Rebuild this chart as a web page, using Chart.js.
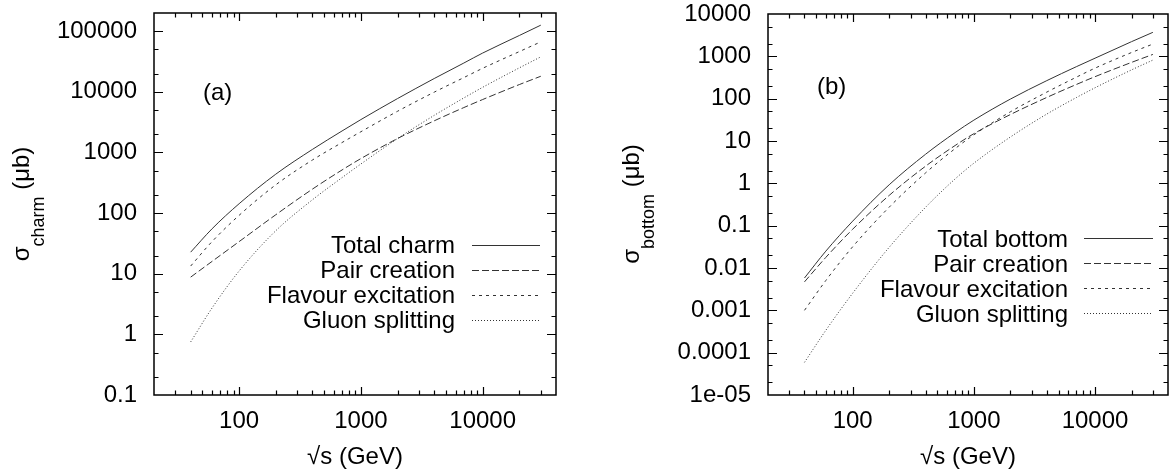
<!DOCTYPE html>
<html><head><meta charset="utf-8">
<script src="https://cdn.jsdelivr.net/npm/chart.js@4.4.1/dist/chart.umd.min.js"></script>
<style>
html,body{margin:0;padding:0;background:#fff;overflow:hidden}
#wrap{position:relative;width:1169px;height:470px;background:#fff}
#c1{position:absolute;left:0;top:0}
#c2{position:absolute;left:584px;top:0}
</style></head><body>
<div id="wrap">
<canvas id="c1" width="584" height="470"></canvas>
<canvas id="c2" width="585" height="470"></canvas>
</div>
<script>
// ---- data ----
const energies = [40, 60, 100, 200, 400, 700, 1000, 2000, 4000, 7000, 10000, 20000, 30000];

const charmTotal   = [22.7, 55.3, 143, 439, 1125, 2265, 3490, 7760, 16600, 29900, 43700, 85100, 126000];
const charmPair    = [8.8, 16.0, 33.9, 94, 249, 515, 794, 1700, 3330, 5510, 7480, 13200, 18100];
const charmFlavour = [13.4, 34.0, 92.0, 293, 752, 1460, 2200, 4790, 9890, 17200, 24500, 46200, 66800];
const charmGluon   = [0.75, 2.73, 11.1, 51.2, 166, 385, 647, 1700, 4100, 7940, 11900, 24900, 37800];

const bottomTotal   = [0.0058, 0.025, 0.128, 0.925, 4.88, 15.8, 31.1, 97.7, 267, 568, 904, 2220, 3690];
const bottomPair    = [0.0047, 0.0178, 0.0826, 0.519, 2.55, 7.82, 14.9, 42.1, 107, 216, 331, 719, 1110];
const bottomFlavour = [0.001, 0.00506, 0.0318, 0.273, 1.77, 6.61, 14.0, 48.8, 143, 321, 526, 1230, 1950];
const bottomGluon   = [0.000059, 0.000337, 0.00254, 0.0308, 0.273, 1.27, 2.99, 12.4, 43.3, 106, 181, 478, 815];

const charmLabels  = ['Total charm', 'Pair creation', 'Flavour excitation', 'Gluon splitting'];
const bottomLabels = ['Total bottom', 'Pair creation', 'Flavour excitation', 'Gluon splitting'];

const xTickValues = [100, 1000, 10000];
const xTickLabels = ['100', '1000', '10000'];
const charmYTickValues = [0.1, 1, 10, 100, 1000, 10000, 100000];
const charmYTickLabels = ['0.1', '1', '10', '100', '1000', '10000', '100000'];
const bottomYTickValues = [1e-5, 1e-4, 1e-3, 0.01, 0.1, 1, 10, 100, 1000, 10000];
const bottomYTickLabels = ['1e-05', '0.0001', '0.001', '0.01', '0.1', '1', '10', '100', '1000', '10000'];

// ---- style ----
const FONT = '"Liberation Sans", Arial, Helvetica, sans-serif';
const LINE_COLOR = '#333';
const DASHES = [[], [7, 3], [3, 4], [1, 2]];
Chart.defaults.font.family = FONT;
Chart.defaults.font.size = 24;
Chart.defaults.color = '#000';

function pts(vals) { return energies.map((e, i) => ({x: e, y: vals[i]})); }

function makeDatasets(labels, series) {
  return series.map((s, i) => ({
    label: labels[i],
    data: pts(s),
    borderColor: LINE_COLOR,
    borderWidth: 1,
    borderDash: DASHES[i],
    pointRadius: 0,
    fill: false,
    cubicInterpolationMode: 'monotone'
  }));
}

const framePlugin = {
  id: 'frame',
  afterDraw(chart) {
    const {ctx, chartArea: a, scales: {x, y}} = chart;
    ctx.save();
    ctx.strokeStyle = '#000';
    ctx.lineWidth = 1.5;
    ctx.strokeRect(a.left, a.top, a.right - a.left, a.bottom - a.top);
    ctx.lineWidth = 1.2;
    ctx.beginPath();
    for (let d = Math.floor(Math.log10(x.min)); d <= Math.ceil(Math.log10(x.max)); d++) {
      for (let m = 1; m <= 9; m++) {
        const v = m * Math.pow(10, d);
        if (v <= x.min * 1.0001 || v >= x.max * 0.9999) continue;
        const px = Math.round(x.getPixelForValue(v)) + 0.5;
        const len = m === 1 ? 8 : 4.5;
        ctx.moveTo(px, a.bottom); ctx.lineTo(px, a.bottom - len);
        ctx.moveTo(px, a.top); ctx.lineTo(px, a.top + len);
      }
    }
    for (let d = Math.floor(Math.log10(y.min)); d <= Math.ceil(Math.log10(y.max)); d++) {
      for (const m of [1, 2, 5]) {
        const v = m * Math.pow(10, d);
        if (v <= y.min * 1.0001 || v >= y.max * 0.9999) continue;
        const py = Math.round(y.getPixelForValue(v)) + 0.5;
        const len = m === 1 ? 9 : 4.5;
        ctx.moveTo(a.left, py); ctx.lineTo(a.left + len, py);
        ctx.moveTo(a.right, py); ctx.lineTo(a.right - len, py);
      }
    }
    ctx.stroke();
    ctx.restore();
  }
};

const textPlugin = {
  id: 'texts',
  afterDraw(chart, args, o) {
    const ctx = chart.ctx;
    ctx.save();
    ctx.fillStyle = '#000';
    ctx.font = '24px ' + FONT;
    ctx.textBaseline = 'alphabetic';
    ctx.textAlign = 'left';
    ctx.fillText(o.panel, o.panelX, o.panelY);
    ctx.save();
    ctx.translate(o.titleX, o.titleY);
    ctx.rotate(-Math.PI / 2);
    ctx.font = '24px ' + FONT;
    const w1 = ctx.measureText('σ').width;
    const w3 = ctx.measureText(' (μb)').width;
    ctx.font = '18px ' + FONT;
    const w2 = ctx.measureText(o.sub).width;
    let sx = -(w1 + w2 + w3) / 2;
    ctx.textAlign = 'left';
    ctx.font = '24px ' + FONT;
    ctx.fillText('σ', sx, 0);
    ctx.font = '18px ' + FONT;
    ctx.fillText(o.sub, sx + w1, 15);
    ctx.font = '24px ' + FONT;
    ctx.fillText(' (μb)', sx + w1 + w2, 0);
    ctx.restore();
    ctx.font = '24px ' + FONT;
    ctx.textAlign = 'right';
    chart.data.datasets.forEach((ds, i) => {
      const yb = o.legBase + i * 25;
      const yl = o.legLine + i * 25;
      ctx.fillStyle = '#000';
      ctx.fillText(ds.label, o.legTextX, yb);
      ctx.save();
      ctx.strokeStyle = ds.borderColor;
      ctx.lineWidth = ds.borderWidth;
      ctx.setLineDash(ds.borderDash);
      ctx.beginPath();
      ctx.moveTo(o.legX0, Math.round(yl) + 0.5);
      ctx.lineTo(o.legX1, Math.round(yl) + 0.5);
      ctx.stroke();
      ctx.restore();
    });
    ctx.restore();
  }
};

function makeChart(id, datasets, yVals, yLabels, yMin, yMax, yWidth, padTop, padRight, texts) {
  return new Chart(document.getElementById(id), {
    type: 'line',
    data: {datasets},
    plugins: [framePlugin, textPlugin],
    options: {
      responsive: false,
      animation: false,
      devicePixelRatio: 1,
      layout: {padding: {left: 0, right: padRight, top: padTop, bottom: 0}},
      plugins: {legend: {display: false}, tooltip: {enabled: false}, texts},
      scales: {
        x: {
          type: 'logarithmic', min: 20, max: 40000,
          grid: {display: false, drawTicks: false},
          border: {display: false},
          afterBuildTicks(s) { s.ticks = xTickValues.map(v => ({value: v, major: true})); },
          afterFit(s) { s.height = 75; s.paddingLeft = 0; s.paddingRight = 0; s.paddingTop = 0; s.paddingBottom = 0; },
          ticks: {padding: 12, maxRotation: 0, autoSkip: false, font: {size: 24},
                  callback: (v, i) => xTickLabels[i]},
          title: {display: true, text: '√s (GeV)', font: {size: 24, lineHeight: 1},
                  padding: {top: 0, bottom: 1}}
        },
        y: {
          type: 'logarithmic', min: yMin, max: yMax,
          grid: {display: false, drawTicks: false},
          border: {display: false},
          afterBuildTicks(s) { s.ticks = yVals.map(v => ({value: v, major: true})); },
          afterFit(s) { s.width = yWidth; s.paddingTop = 0; s.paddingBottom = 0; s.paddingLeft = 0; s.paddingRight = 0; },
          ticks: {padding: 17, autoSkip: false, font: {size: 24},
                  callback: (v, i) => yLabels[i]}
        }
      }
    }
  });
}

makeChart('c1', makeDatasets(charmLabels, [charmTotal, charmPair, charmFlavour, charmGluon]),
  charmYTickValues, charmYTickLabels, 0.1, 200000, 154, 13, 28,
  {panel: '(a)', panelX: 203, panelY: 100, sub: 'charm', titleX: 28.5, titleY: 204,
   legTextX: 455, legBase: 252.7, legLine: 245, legX0: 472, legX1: 540});

makeChart('c2', makeDatasets(bottomLabels, [bottomTotal, bottomPair, bottomFlavour, bottomGluon]),
  bottomYTickValues, bottomYTickLabels, 1e-5, 10000, 184, 14, 1,
  {panel: '(b)', panelX: 233, panelY: 93.5, sub: 'bottom', titleX: 54.5, titleY: 204,
   legTextX: 484, legBase: 246.7, legLine: 238.3, legX0: 500, legX1: 569});
</script>
</body></html>
